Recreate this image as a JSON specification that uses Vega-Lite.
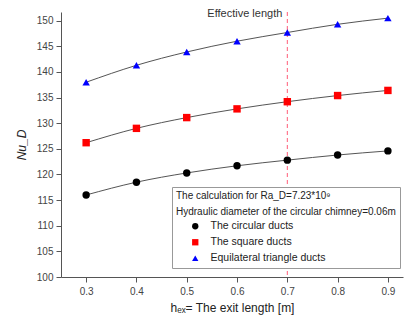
{
  "$schema": "https://vega.github.io/schema/vega-lite/v6.json",
  "width": 342,
  "height": 265,
  "autosize": {"type": "none"},
  "padding": {"left": 61, "top": 12, "right": 4, "bottom": 43},
  "config": {
    "font": "Liberation Sans",
    "view": {"stroke": null},
    "axis": {"grid": false, "domainColor": "#555", "tickColor": "#555", "labelColor": "#444", "titleColor": "#222", "labelFontSize": 10, "titleFontWeight": "normal", "titleFontSize": 12, "tickSize": 5}
  },
  "data": {
    "values": [
      {"h": 0.3, "Nu": 116.0, "series": "The circular ducts"},
      {"h": 0.4, "Nu": 118.5, "series": "The circular ducts"},
      {"h": 0.5, "Nu": 120.3, "series": "The circular ducts"},
      {"h": 0.6, "Nu": 121.7, "series": "The circular ducts"},
      {"h": 0.7, "Nu": 122.8, "series": "The circular ducts"},
      {"h": 0.8, "Nu": 123.8, "series": "The circular ducts"},
      {"h": 0.9, "Nu": 124.6, "series": "The circular ducts"},
      {"h": 0.3, "Nu": 126.2, "series": "The square ducts"},
      {"h": 0.4, "Nu": 129.0, "series": "The square ducts"},
      {"h": 0.5, "Nu": 131.1, "series": "The square ducts"},
      {"h": 0.6, "Nu": 132.8, "series": "The square ducts"},
      {"h": 0.7, "Nu": 134.2, "series": "The square ducts"},
      {"h": 0.8, "Nu": 135.4, "series": "The square ducts"},
      {"h": 0.9, "Nu": 136.4, "series": "The square ducts"},
      {"h": 0.3, "Nu": 138.0, "series": "Equilateral triangle ducts"},
      {"h": 0.4, "Nu": 141.3, "series": "Equilateral triangle ducts"},
      {"h": 0.5, "Nu": 143.9, "series": "Equilateral triangle ducts"},
      {"h": 0.6, "Nu": 146.0, "series": "Equilateral triangle ducts"},
      {"h": 0.7, "Nu": 147.7, "series": "Equilateral triangle ducts"},
      {"h": 0.8, "Nu": 149.3, "series": "Equilateral triangle ducts"},
      {"h": 0.9, "Nu": 150.5, "series": "Equilateral triangle ducts"}
    ]
  },
  "layer": [
    {
      "data": {"values": [{"h": 0.7}]},
      "mark": {"type": "rule", "color": "#ff5c78", "strokeDash": [4, 3], "strokeWidth": 1},
      "encoding": {
        "x": {
          "field": "h", "type": "quantitative",
          "scale": {"domain": [0.25, 0.93], "nice": false, "zero": false},
          "axis": {"values": [0.3, 0.4, 0.5, 0.6, 0.7, 0.8, 0.9], "format": ".1f", "labelPadding": 4, "titlePadding": 6},
          "title": "hₑₓ= The exit length [m]"
        }
      }
    },
    {
      "data": {"values": [{"h": 0.7, "Nu": 151.5, "label": "Effective length"}]},
      "mark": {"type": "text", "align": "right", "baseline": "middle", "dx": -5, "dy": 1, "fontSize": 11, "color": "#333"},
      "encoding": {
        "x": {
          "field": "h", "type": "quantitative",
          "scale": {"domain": [0.25, 0.93], "nice": false, "zero": false},
          "axis": {"values": [0.3, 0.4, 0.5, 0.6, 0.7, 0.8, 0.9], "format": ".1f", "labelPadding": 4, "titlePadding": 6},
          "title": "hₑₓ= The exit length [m]"
        },
        "y": {
          "field": "Nu", "type": "quantitative",
          "scale": {"domain": [100, 151.7], "nice": false, "zero": false},
          "axis": {"values": [100, 105, 110, 115, 120, 125, 130, 135, 140, 145, 150], "labelPadding": 3, "titlePadding": 8, "titleFontStyle": "italic"},
          "title": "Nu_D"
        },
        "text": {"field": "label"}
      }
    },
    {
      "mark": {"type": "line", "interpolate": "monotone", "color": "#555", "strokeWidth": 1},
      "encoding": {
        "x": {
          "field": "h", "type": "quantitative",
          "scale": {"domain": [0.25, 0.93], "nice": false, "zero": false},
          "axis": {"values": [0.3, 0.4, 0.5, 0.6, 0.7, 0.8, 0.9], "format": ".1f", "labelPadding": 4, "titlePadding": 6},
          "title": "hₑₓ= The exit length [m]"
        },
        "y": {
          "field": "Nu", "type": "quantitative",
          "scale": {"domain": [100, 151.7], "nice": false, "zero": false},
          "axis": {"values": [100, 105, 110, 115, 120, 125, 130, 135, 140, 145, 150], "labelPadding": 3, "titlePadding": 8, "titleFontStyle": "italic"},
          "title": "Nu_D"
        },
        "detail": {"field": "series"}
      }
    },
    {
      "mark": {"type": "point", "filled": true, "opacity": 1, "size": 55},
      "encoding": {
        "x": {
          "field": "h", "type": "quantitative",
          "scale": {"domain": [0.25, 0.93], "nice": false, "zero": false},
          "axis": {"values": [0.3, 0.4, 0.5, 0.6, 0.7, 0.8, 0.9], "format": ".1f", "labelPadding": 4, "titlePadding": 6},
          "title": "hₑₓ= The exit length [m]"
        },
        "y": {
          "field": "Nu", "type": "quantitative",
          "scale": {"domain": [100, 151.7], "nice": false, "zero": false},
          "axis": {"values": [100, 105, 110, 115, 120, 125, 130, 135, 140, 145, 150], "labelPadding": 3, "titlePadding": 8, "titleFontStyle": "italic"},
          "title": "Nu_D"
        },
        "color": {
          "field": "series", "type": "nominal",
          "sort": ["The circular ducts", "The square ducts", "Equilateral triangle ducts"],
          "scale": {"domain": ["The circular ducts", "The square ducts", "Equilateral triangle ducts"], "range": ["#000000", "#ff0000", "#0000ff"]},
          "legend": {
            "title": ["The calculation for Ra_D=7.23*10⁹", "Hydraulic diameter of the circular chimney=0.06m"],
            "orient": "none",
            "legendX": 111,
            "legendY": 175,
            "fillColor": "white",
            "strokeColor": "#999",
            "padding": 4,
            "titleFontWeight": "normal",
            "titleFontSize": 10,
            "titleLineHeight": 16,
            "titleLimit": 400,
            "titleColor": "#222",
            "titlePadding": 4,
            "labelFontSize": 10.5,
            "labelColor": "#222",
            "rowPadding": 5,
            "symbolSize": 40,
            "symbolOffset": 14,
            "labelOffset": 10
          }
        },
        "shape": {
          "field": "series", "type": "nominal",
          "scale": {"domain": ["The circular ducts", "The square ducts", "Equilateral triangle ducts"], "range": ["circle", "square", "triangle-up"]},
          "legend": null
        }
      }
    }
  ]
}
